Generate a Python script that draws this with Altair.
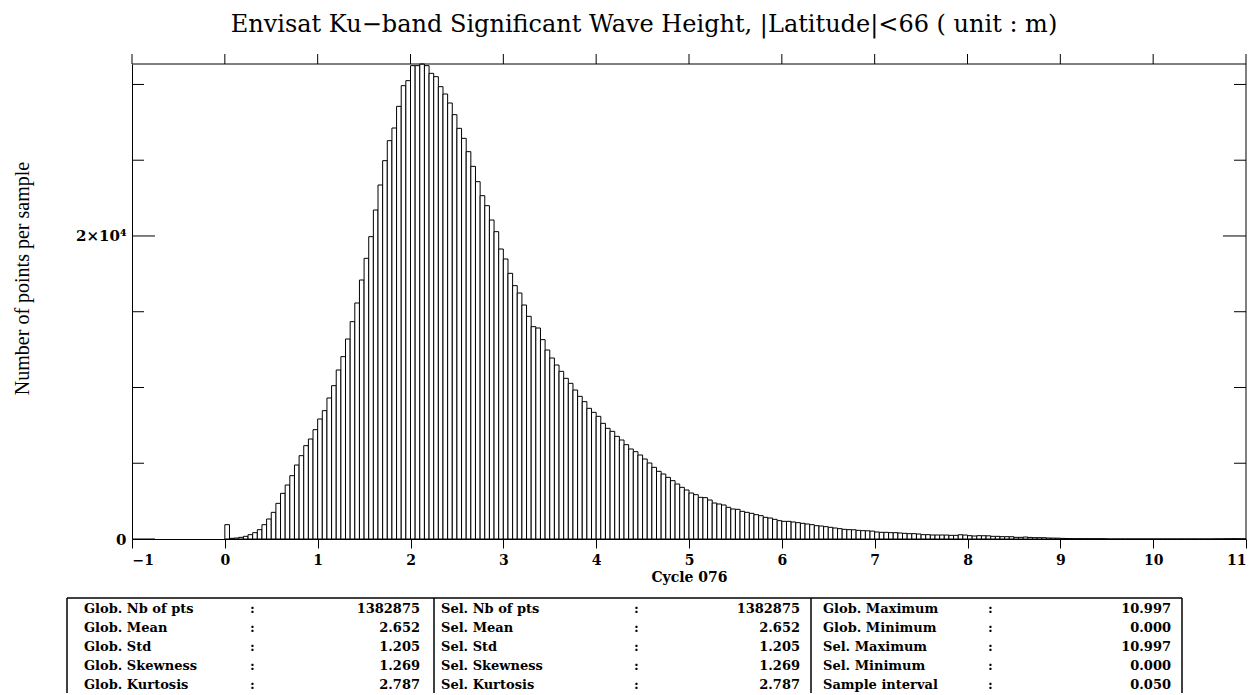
import altair as alt
import pandas as pd

# ---------------- data ----------------
TITLE = "Envisat Ku−band Significant Wave Height, |Latitude|<66  ( unit : m)"
X_TITLE = "Cycle 076"
Y_TITLE = "Number of points per sample"

BIN_WIDTH = 0.05          # sample interval (m)
counts = [
    946, 44, 66, 110, 176, 286, 418, 616, 946, 1320,
    1760, 2354, 3014, 3564, 4180, 4884, 5500, 6160, 6600, 7216,
    7920, 8470, 9306, 10120, 11154, 12034, 13200, 14344, 15576, 17094,
    18524, 19954, 21714, 23364, 24970, 26290, 27126, 28556, 29920, 30250,
    31240, 31240, 31350, 31240, 30734, 30514, 29854, 29370, 28776, 28006,
    27104, 26444, 25564, 24596, 23584, 22660, 22000, 21054, 20284, 19140,
    18480, 17534, 16720, 16236, 15444, 14696, 14014, 13926, 13156, 12474,
    11946, 11484, 11066, 10604, 10274, 9834, 9416, 9064, 8624, 8360,
    8096, 7634, 7304, 7106, 6776, 6534, 6226, 5940, 5764, 5544,
    5280, 5016, 4730, 4466, 4290, 4070, 3850, 3630, 3410, 3234,
    3036, 2926, 2750, 2728, 2574, 2376, 2310, 2244, 2090, 1980,
    1958, 1826, 1760, 1694, 1606, 1540, 1430, 1386, 1298, 1210,
    1166, 1166, 1122, 1078, 1034, 990, 946, 880, 858, 814,
    770, 726, 682, 638, 616, 610, 572, 550, 540, 520,
    462, 440, 440, 418, 418, 396, 374, 352, 352, 330,
    286, 286, 264, 264, 264, 260, 242, 242, 280, 260,
    220, 198, 220, 215, 210, 176, 176, 154, 154, 150,
    110, 110, 130, 105, 88, 88, 85, 66, 60, 55,
    40, 30, 25, 22, 22, 20, 20, 18, 18, 15,
    0, 0, 0, 0, 0, 0, 0, 0, 0, 0,
    0, 0, 0, 0, 0, 0, 0, 0, 0, 0,
    0, 0, 0, 8, 8, 0, 0, 8, 0, 0,
]

x_ticks = [-1, 0, 1, 2, 3, 4, 5, 6, 7, 8, 9, 10, 11]
y_major = [0, 20000]
y_minor = [5000, 10000, 15000, 25000, 30000]
Y_MAX = 31350

col1_labels = ["Glob. Nb of pts", "Glob. Mean", "Glob. Std", "Glob. Skewness", "Glob. Kurtosis"]
col1_values = ["1382875", "2.652", "1.205", "1.269", "2.787"]
col2_labels = ["Sel. Nb of pts", "Sel. Mean", "Sel. Std", "Sel. Skewness", "Sel. Kurtosis"]
col2_values = ["1382875", "2.652", "1.205", "1.269", "2.787"]
col3_labels = ["Glob. Maximum", "Glob. Minimum", "Sel. Maximum", "Sel. Minimum", "Sample interval"]
col3_values = ["10.997", "0.000", "10.997", "0.000", "0.050"]

# ---------------- layout / style ----------------
W, H = 1114, 475
SERIF = "DejaVu Serif"
TSERIF = "Liberation Serif"

starts = [round(i * BIN_WIDTH, 2) for i in range(len(counts))]
ends = [round((i + 1) * BIN_WIDTH, 2) for i in range(len(counts))]
hist = pd.DataFrame({"start": starts, "end": ends, "count": counts, "base": [0] * len(counts)})

xscale = alt.Scale(domain=[-1, 11], nice=False, zero=False)
yscale = alt.Scale(domain=[0, Y_MAX], nice=False)

X_AXIS = alt.Axis(values=x_ticks, format="d", title=X_TITLE, grid=False,
                  tickSize=9, tickColor="black", domainColor="black",
                  labelFont=SERIF, labelFontWeight="bold", labelFontSize=14,
                  labelColor="black", labelPadding=5,
                  titleFont=SERIF, titleFontWeight="bold", titleFontSize=14,
                  titleColor="black", titlePadding=3)
Y_AXIS = alt.Axis(values=y_major, labelExpr="datum.value == 0 ? '0' : '2×10⁴'",
                  ticks=False, grid=False, domainColor="black",
                  labelFont=SERIF, labelFontWeight="bold", labelFontSize=15,
                  labelColor="black", labelPadding=6,
                  title=Y_TITLE, titleFont=TSERIF, titleFontWeight="normal",
                  titleFontSize=20, titleColor="black", titlePadding=43, titleY=214)

bars = alt.Chart(hist).mark_rect(fill="white", stroke="black", strokeWidth=1).encode(
    x=alt.X("start:Q", scale=xscale, axis=X_AXIS),
    x2="end:Q",
    y=alt.Y("count:Q", scale=yscale, axis=Y_AXIS),
    y2="base:Q",
)

tick_df = pd.DataFrame({"t": x_ticks})
top_ticks = alt.Chart(tick_df).mark_rule(color="black", strokeWidth=1).encode(
    x=alt.X("t:Q", scale=xscale, axis=X_AXIS), y=alt.value(-10), y2=alt.value(0))

minor_df = pd.DataFrame({"v": y_minor})
major_df = pd.DataFrame({"v": y_major})
left_minor = alt.Chart(minor_df).mark_rule(color="black").encode(
    y=alt.Y("v:Q", scale=yscale, axis=Y_AXIS), x=alt.value(0), x2=alt.value(12))
left_major = alt.Chart(major_df).mark_rule(color="black").encode(
    y=alt.Y("v:Q", scale=yscale, axis=Y_AXIS), x=alt.value(0), x2=alt.value(23))
right_minor = alt.Chart(minor_df).mark_rule(color="black").encode(
    y=alt.Y("v:Q", scale=yscale, axis=Y_AXIS), x=alt.value(W - 12), x2=alt.value(W))
right_major = alt.Chart(major_df).mark_rule(color="black").encode(
    y=alt.Y("v:Q", scale=yscale, axis=Y_AXIS), x=alt.value(W - 23), x2=alt.value(W))

frame_top = alt.Chart(tick_df.head(1)).mark_rule(color="black").encode(
    x=alt.value(0), x2=alt.value(W), y=alt.value(0))
frame_right = alt.Chart(tick_df.head(1)).mark_rule(color="black").encode(
    x=alt.value(W), y=alt.value(0), y2=alt.value(H))

main = alt.layer(bars, top_ticks, left_minor, left_major, right_minor, right_major,
                 frame_top, frame_right).properties(
    width=W, height=H,
    title=alt.TitleParams(TITLE, font=SERIF, fontSize=24, fontWeight="normal",
                          color="black", anchor="middle", offset=17, dx=-45),
)

# ---------------- statistics table ----------------
TW = W
ROW_H = 19
TH = ROW_H * 5
# column geometry relative to the plot's left edge (pixels)
borders = [-65, 302, 679, 1050]
label_x = [-48, 309, 691]
colon_x = [118, 502, 856]
value_x = [288, 668, 1039]

txscale = alt.Scale(domain=[0, TW], range=[0, TW], nice=False, zero=False)
tyscale = alt.Scale(domain=[0, 5], nice=False, zero=False, reverse=True)

recs = []
for c, (labs, vals) in enumerate([(col1_labels, col1_values), (col2_labels, col2_values),
                                  (col3_labels, col3_values)]):
    for r in range(5):
        recs.append({"row": r + 0.6, "lx": label_x[c], "cx": colon_x[c], "vx": value_x[c],
                     "label": labs[r], "value": vals[r]})
tdf = pd.DataFrame(recs)

txt = dict(font=SERIF, fontWeight="bold", fontSize=13, color="black", baseline="middle")
t_labels = alt.Chart(tdf).mark_text(align="left", **txt).encode(
    x=alt.X("lx:Q", scale=txscale, axis=None), y=alt.Y("row:Q", scale=tyscale, axis=None),
    text="label:N")
t_colons = alt.Chart(tdf).mark_text(align="left", **txt).encode(
    x=alt.X("cx:Q", scale=txscale, axis=None), y=alt.Y("row:Q", scale=tyscale, axis=None),
    text=alt.value(":"))
t_values = alt.Chart(tdf).mark_text(align="right", **txt).encode(
    x=alt.X("vx:Q", scale=txscale, axis=None), y=alt.Y("row:Q", scale=tyscale, axis=None),
    text="value:N")

bdf = pd.DataFrame({"bx": borders, "y0": [0] * 4, "y1": [5] * 4})
t_vlines = alt.Chart(bdf).mark_rule(color="black", strokeWidth=1.5).encode(
    x=alt.X("bx:Q", scale=txscale, axis=None),
    y=alt.Y("y0:Q", scale=tyscale, axis=None), y2="y1:Q")
hdf = pd.DataFrame({"x0": [borders[0]], "x1": [borders[-1]], "yy": [0]})
t_top = alt.Chart(hdf).mark_rule(color="black", strokeWidth=1.5).encode(
    x=alt.X("x0:Q", scale=txscale, axis=None), x2="x1:Q",
    y=alt.Y("yy:Q", scale=tyscale, axis=None))

table = alt.layer(t_vlines, t_top, t_labels, t_colons, t_values).properties(width=TW, height=TH)

chart = alt.vconcat(main, table, spacing=13).properties(
    padding={"left": 4, "top": 4, "right": 4, "bottom": 0},
    background="white",
).configure_view(stroke=None)

chart.save("out.html", embed_options={"renderer": "svg", "actions": False})
